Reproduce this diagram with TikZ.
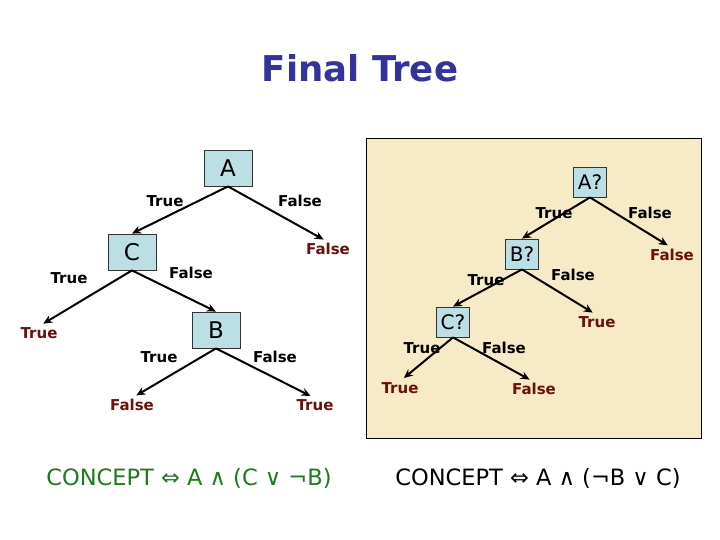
\documentclass[tikz,border=0pt]{standalone}
\usepackage{fontspec}
\setmainfont{DejaVu Sans}
\usetikzlibrary{arrows.meta}
\definecolor{boxblue}{HTML}{BCDEE5}
\definecolor{panel}{HTML}{F6EBC6}
\definecolor{leafred}{HTML}{6B0F0F}
\definecolor{titleblue}{HTML}{333399}
\definecolor{formgreen}{HTML}{1E7A1E}
\tikzset{
  decbox/.style={draw=black!80, line width=0.8pt, fill=boxblue, minimum width=48pt, minimum height=36pt, inner sep=0pt, font=\fontsize{23}{25}\selectfont},
  decboxs/.style={decbox, minimum width=33pt, minimum height=30pt, font=\fontsize{20}{22}\selectfont},
  leaf/.style={text=leafred, font=\fontsize{15}{17}\selectfont\bfseries, inner sep=1pt},
  elabel/.style={font=\fontsize{15}{17}\selectfont\bfseries, inner sep=0pt},
  edge/.style={line width=2pt, -{Stealth[length=9pt,width=8pt]}},
  toleaf/.style={edge, shorten >=5pt},
}
\begin{document}
\begin{tikzpicture}[x=1pt,y=-1pt]
\useasboundingbox (0,0) rectangle (720,540);
\fill[white] (0,0) rectangle (720,540);
\node[font=\fontsize{35.5}{38}\selectfont\bfseries, text=titleblue] (title) at (360,68) {Final Tree};
% right panel
\draw[fill=panel, line width=1pt] (366,139) rectangle (701,438);
% left tree
\node[decbox] (A) at (228,168) {A};
\node[decbox] (C) at (132,252) {C};
\node[decbox] (B) at (216,330) {B};
\node[leaf] (LAF) at (328,249) {False};
\node[leaf] (LCT) at (39,333) {True};
\node[leaf] (LBF) at (132,405) {False};
\node[leaf] (LBT) at (315,405) {True};
\draw[edge] (A.south) -- (C.north);
\draw[toleaf] (A.south) -- (LAF.north);
\draw[toleaf] (C.south) -- (LCT.north);
\draw[edge] (C.south) -- (B.north);
\draw[toleaf] (B.south) -- (LBF.north);
\draw[toleaf] (B.south) -- (LBT.north);
\node[elabel] (eAT) at (165,201) {True};
\node[elabel] (eAF) at (300,201) {False};
\node[elabel] (eCT) at (69,278) {True};
\node[elabel] (eCF) at (191,273) {False};
\node[elabel] (eBT) at (159,357) {True};
\node[elabel] (eBF) at (275,357) {False};
% right tree
\node[decboxs] (RA) at (590,182) {A?};
\node[decboxs] (RB) at (522,254) {B?};
\node[decboxs] (RC) at (453,322) {C?};
\node[leaf] (RLAF) at (672,255) {False};
\node[leaf] (RLBT) at (597,322) {True};
\node[leaf] (RLCT) at (400,388) {True};
\node[leaf] (RLCF) at (534,389) {False};
\draw[edge] (RA.south) -- (RB.north);
\draw[toleaf] (RA.south) -- (RLAF.north);
\draw[edge] (RB.south) -- (RC.north);
\draw[toleaf] (RB.south) -- (RLBT.north);
\draw[toleaf] (RC.south) -- (RLCT.north);
\draw[toleaf] (RC.south) -- (RLCF.north);
\node[elabel] (rAT) at (554,213) {True};
\node[elabel] (rAF) at (650,213) {False};
\node[elabel] (rBT) at (486,280) {True};
\node[elabel] (rBF) at (573,275) {False};
\node[elabel] (rCT) at (422,348) {True};
\node[elabel] (rCF) at (504,348) {False};
% formulas
\node[text=formgreen, font=\fontsize{22.5}{25}\selectfont] (f1) at (189,478) {CONCEPT ⇔ A ∧ (C ∨ ¬B)};
\node[font=\fontsize{22.5}{25}\selectfont] (f2) at (538,478) {CONCEPT ⇔ A ∧ (¬B ∨ C)};
\end{tikzpicture}
\end{document}
